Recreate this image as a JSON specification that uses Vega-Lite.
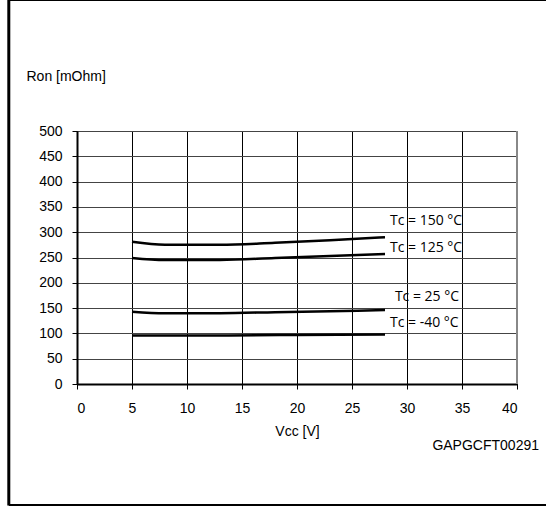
{
  "$schema": "https://vega.github.io/schema/vega-lite/v6.json",
  "autosize": "none",
  "width": 440,
  "height": 253,
  "padding": {"left": 77, "top": 131, "right": 29, "bottom": 122},
  "background": "white",
  "config": {
    "view": {"stroke": "#000", "strokeWidth": 1},
    "axis": {
      "labelFont": "Liberation Sans",
      "labelFontSize": 14,
      "labelColor": "#000",
      "labelOverlap": false,
      "titleFont": "Liberation Sans",
      "titleFontSize": 14,
      "titleFontWeight": "normal",
      "titleColor": "#000",
      "tickColor": "#000",
      "tickSize": 5,
      "domainColor": "#000",
      "domainWidth": 2,
      "grid": true,
      "gridWidth": 1
    },
    "axisX": {"labelPadding": 12, "titlePadding": 9, "gridColor": "#000"},
    "axisY": {"labelPadding": 10, "gridColor": "#444", "titleAngle": 0, "titleAlign": "left", "titleBaseline": "middle", "titleX": -51, "titleY": -55}
  },
  "datasets": {
    "curves": [
      {"tc": "150", "vcc": 5, "ron": 281},
      {"tc": "150", "vcc": 8, "ron": 275},
      {"tc": "150", "vcc": 13, "ron": 275},
      {"tc": "150", "vcc": 18, "ron": 279},
      {"tc": "150", "vcc": 23, "ron": 284},
      {"tc": "150", "vcc": 28, "ron": 290},
      {"tc": "125", "vcc": 5, "ron": 249},
      {"tc": "125", "vcc": 8, "ron": 245},
      {"tc": "125", "vcc": 13, "ron": 245},
      {"tc": "125", "vcc": 18, "ron": 249},
      {"tc": "125", "vcc": 23, "ron": 253},
      {"tc": "125", "vcc": 28, "ron": 257},
      {"tc": "25", "vcc": 5, "ron": 143},
      {"tc": "25", "vcc": 8, "ron": 140},
      {"tc": "25", "vcc": 13, "ron": 140},
      {"tc": "25", "vcc": 18, "ron": 142},
      {"tc": "25", "vcc": 23, "ron": 144},
      {"tc": "25", "vcc": 28, "ron": 146},
      {"tc": "-40", "vcc": 5, "ron": 96},
      {"tc": "-40", "vcc": 13, "ron": 96},
      {"tc": "-40", "vcc": 20, "ron": 97},
      {"tc": "-40", "vcc": 28, "ron": 98}
    ],
    "labels": [
      {"label": "Tc = 150 °C", "vcc": 28.45, "ron": 322},
      {"label": "Tc = 125 °C", "vcc": 28.45, "ron": 268},
      {"label": "Tc = 25 °C", "vcc": 28.9, "ron": 172},
      {"label": "Tc = -40 °C", "vcc": 28.45, "ron": 120}
    ],
    "one": [{"code": "GAPGCFT00291"}]
  },
  "layer": [
    {
      "data": {"name": "curves"},
      "mark": {"type": "line", "color": "#000", "strokeWidth": 2.5, "interpolate": "monotone"},
      "encoding": {
        "x": {
          "field": "vcc", "type": "quantitative", "title": "Vcc [V]",
          "scale": {"domain": [0, 40], "nice": false},
          "axis": {"values": [0, 5, 10, 15, 20, 25, 30, 35, 40]}
        },
        "y": {
          "field": "ron", "type": "quantitative", "title": "Ron [mOhm]",
          "scale": {"domain": [0, 500], "nice": false},
          "axis": {"values": [0, 50, 100, 150, 200, 250, 300, 350, 400, 450, 500]}
        },
        "detail": {"field": "tc", "type": "nominal"}
      }
    },
    {
      "data": {"name": "labels"},
      "mark": {"type": "text", "align": "left", "baseline": "middle", "font": "Open Sans", "fontSize": 14, "color": "#000"},
      "encoding": {
        "x": {"field": "vcc", "type": "quantitative", "title": "Vcc [V]", "axis": {"values": [0, 5, 10, 15, 20, 25, 30, 35, 40]}},
        "y": {"field": "ron", "type": "quantitative", "title": "Ron [mOhm]", "axis": {"values": [0, 50, 100, 150, 200, 250, 300, 350, 400, 450, 500]}},
        "text": {"field": "label"}
      }
    },
    {
      "data": {"name": "one"},
      "mark": {"type": "text", "align": "right", "baseline": "middle", "font": "Liberation Sans", "fontSize": 14, "color": "#000", "clip": false},
      "encoding": {
        "x": {"datum": 42, "type": "quantitative", "title": "Vcc [V]", "axis": {"values": [0, 5, 10, 15, 20, 25, 30, 35, 40]}},
        "y": {"datum": -122, "type": "quantitative", "title": "Ron [mOhm]", "axis": {"values": [0, 50, 100, 150, 200, 250, 300, 350, 400, 450, 500]}},
        "text": {"field": "code"}
      }
    },
    {
      "data": {"name": "one"},
      "mark": {"type": "rule", "color": "#888", "strokeWidth": 2},
      "encoding": {
        "x": {"datum": 40, "type": "quantitative", "title": "Vcc [V]", "axis": {"values": [0, 5, 10, 15, 20, 25, 30, 35, 40]}}
      }
    },
    {
      "data": {"name": "one"},
      "mark": {"type": "rule", "color": "#000", "strokeWidth": 3, "clip": false},
      "encoding": {
        "x": {"datum": -6.2, "type": "quantitative", "title": "Vcc [V]", "axis": {"values": [0, 5, 10, 15, 20, 25, 30, 35, 40]}},
        "y": {"datum": -240, "type": "quantitative", "title": "Ron [mOhm]", "axis": {"values": [0, 50, 100, 150, 200, 250, 300, 350, 400, 450, 500]}},
        "y2": {"datum": 760}
      }
    },
    {
      "data": {"name": "one"},
      "mark": {"type": "rule", "color": "#000", "strokeWidth": 2, "clip": false},
      "encoding": {
        "y": {"datum": 759, "type": "quantitative", "title": "Ron [mOhm]", "axis": {"values": [0, 50, 100, 150, 200, 250, 300, 350, 400, 450, 500]}},
        "x": {"datum": -6.2, "type": "quantitative", "title": "Vcc [V]", "axis": {"values": [0, 5, 10, 15, 20, 25, 30, 35, 40]}},
        "x2": {"datum": 43}
      }
    },
    {
      "data": {"name": "one"},
      "mark": {"type": "rule", "color": "#000", "strokeWidth": 2, "clip": false},
      "encoding": {
        "y": {"datum": -239, "type": "quantitative", "title": "Ron [mOhm]", "axis": {"values": [0, 50, 100, 150, 200, 250, 300, 350, 400, 450, 500]}},
        "x": {"datum": -6.2, "type": "quantitative", "title": "Vcc [V]", "axis": {"values": [0, 5, 10, 15, 20, 25, 30, 35, 40]}},
        "x2": {"datum": 43}
      }
    }
  ]
}
